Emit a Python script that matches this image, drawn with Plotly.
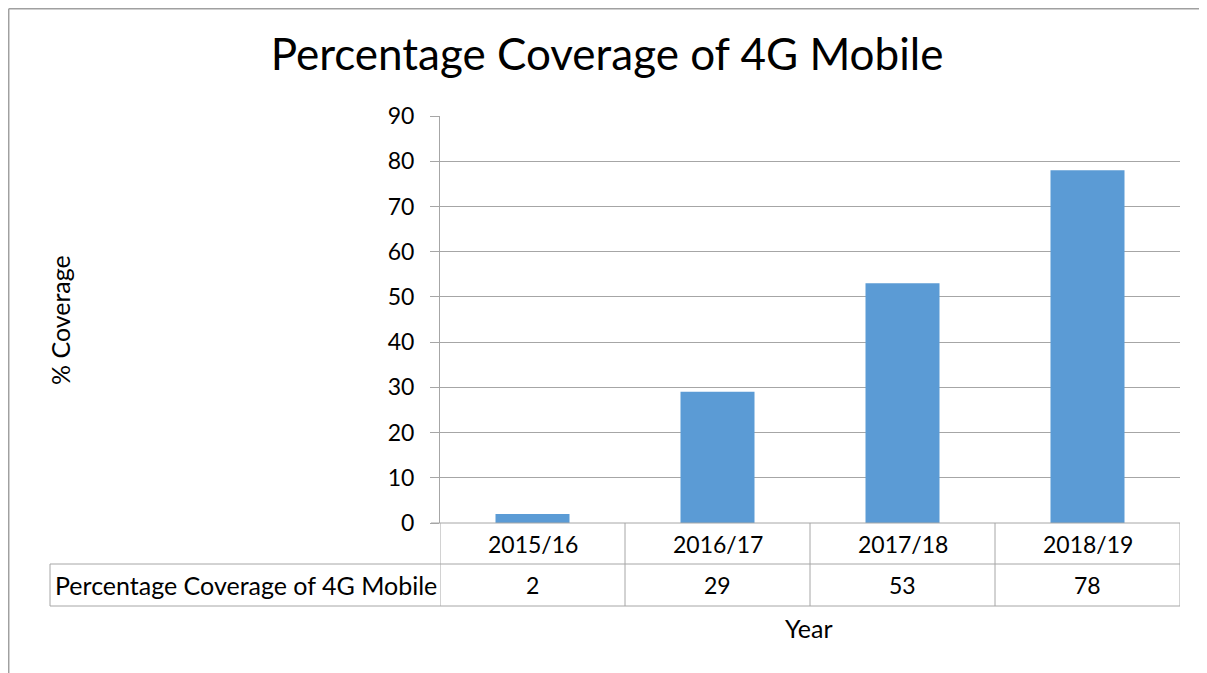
import plotly.graph_objects as go

categories = ["2015/16", "2016/17", "2017/18", "2018/19"]
values = [2, 29, 53, 78]
series_name = "Percentage Coverage of 4G Mobile"
y_ticks = [0, 10, 20, 30, 40, 50, 60, 70, 80, 90]

# page body has an 8px margin; lay out in screen pixels and compensate
OFF = 8
W, H = 1207 - OFF, 673 - OFF
FONT = "Lato"
GRID = "#A6A6A6"
BAR = "#5B9BD5"

def px_x(p):
    return min(max((p - OFF) / W, 0), 1)

def px_y(p):
    return min(max(1 - (p - OFF) / H, 0), 1)

x_left, x_right = 440, 1180
y_top, y_zero = 116, 523
row1_bot, row2_bot = 564, 606

fig = go.Figure()
fig.add_trace(go.Bar(x=list(range(len(categories))), y=values, marker_color=BAR,
                     marker_line_width=0, width=0.4, name=series_name))

fig.update_layout(
    width=W, height=H,
    margin=dict(l=0, r=0, t=0, b=0, pad=0),
    paper_bgcolor="white", plot_bgcolor="white",
    showlegend=False,
    font=dict(family=FONT, color="black", size=23),
    title=dict(text="Percentage Coverage of 4G Mobile", x=(607 - OFF) / W, xanchor="center",
               y=px_y(55), yanchor="middle", automargin=False,
               font=dict(size=44, family=FONT, color="black")),
    xaxis=dict(domain=[px_x(x_left), px_x(x_right)], range=[-0.5, len(categories) - 0.5],
               showticklabels=False, showgrid=False, zeroline=False,
               showline=False, ticks="", automargin=False),
    yaxis=dict(domain=[px_y(y_zero), px_y(y_top)], range=[0, 90], tickvals=y_ticks,
               showgrid=True, gridcolor=GRID, gridwidth=1, zeroline=False,
               showline=True, linecolor=GRID, linewidth=1, automargin=False,
               ticks="outside", ticklen=9, tickcolor=GRID, ticklabelstandoff=11,
               tickfont=dict(size=23, family=FONT, color="black")),
)

shapes = []
line = dict(color=GRID, width=1)
border = dict(color="#A0A0A0", width=1.5)
# outer chart border (top and left)
shapes.append(dict(type="line", xref="paper", yref="paper", x0=0.0006, x1=1, y0=0.999, y1=0.999, line=border))
shapes.append(dict(type="line", xref="paper", yref="paper", x0=0.0006, x1=0.0006, y0=0.999, y1=0, line=border))
# x axis line (top of data table)
shapes.append(dict(type="line", xref="paper", yref="paper", x0=px_x(431), x1=px_x(x_right), y0=px_y(y_zero), y1=px_y(y_zero), line=line))
# table horizontal lines
shapes.append(dict(type="line", xref="paper", yref="paper", x0=px_x(50), x1=px_x(x_right), y0=px_y(row1_bot), y1=px_y(row1_bot), line=line))
shapes.append(dict(type="line", xref="paper", yref="paper", x0=px_x(50), x1=px_x(x_right), y0=px_y(row2_bot), y1=px_y(row2_bot), line=line))
# left border of label cell
shapes.append(dict(type="line", xref="paper", yref="paper", x0=px_x(50), x1=px_x(50), y0=px_y(row1_bot), y1=px_y(row2_bot), line=line))
# vertical separators between categories
for i in range(len(categories) + 1):
    shapes.append(dict(type="line", xref="x", yref="paper", x0=i - 0.5, x1=i - 0.5,
                       y0=px_y(y_zero), y1=px_y(row2_bot), line=line))
fig.update_layout(shapes=shapes)

annotations = []
for i, (c, v) in enumerate(zip(categories, values)):
    annotations.append(dict(x=i, xref="x", y=px_y((y_zero + row1_bot) / 2), yref="paper",
                            text=c, showarrow=False, xanchor="center", yanchor="middle",
                            font=dict(size=23, family=FONT, color="black")))
    annotations.append(dict(x=i, xref="x", y=px_y((row1_bot + row2_bot) / 2), yref="paper",
                            text=str(v), showarrow=False, xanchor="center", yanchor="middle",
                            font=dict(size=23, family=FONT, color="black")))
annotations.append(dict(x=px_x(53), xref="paper", y=px_y((row1_bot + row2_bot) / 2), yref="paper",
                        text=series_name, showarrow=False, xanchor="left", yanchor="middle",
                        font=dict(size=25, family=FONT, color="black")))
annotations.append(dict(x=px_x(809), xref="paper", y=px_y(628), yref="paper",
                        text="Year", showarrow=False, xanchor="center", yanchor="middle",
                        font=dict(size=25, family=FONT, color="black")))
annotations.append(dict(x=px_x(60), xref="paper", y=px_y(320), yref="paper",
                        text="% Coverage", showarrow=False, textangle=-90,
                        xanchor="center", yanchor="middle",
                        font=dict(size=25, family=FONT, color="black")))
fig.update_layout(annotations=annotations)

fig.write_html("out.html")
